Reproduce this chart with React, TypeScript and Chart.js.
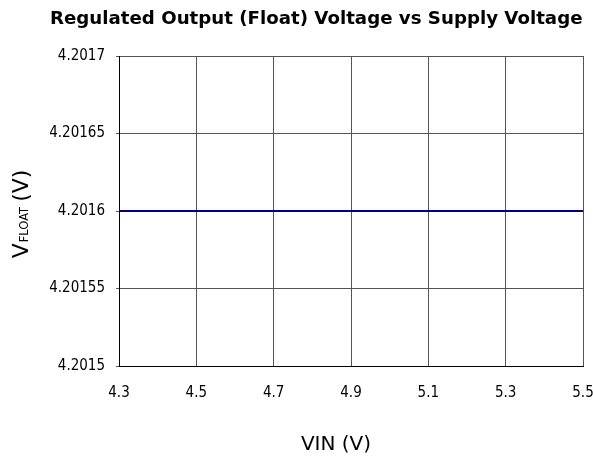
import React, { useEffect, useRef } from "react";
import { Chart, registerables } from "chart.js";

Chart.register(...registerables);

const vin = [4.3, 4.5, 4.7, 4.9, 5.1, 5.3, 5.5];
const vfloat = [4.2016, 4.2016, 4.2016, 4.2016, 4.2016, 4.2016, 4.2016];
const xTicks = [4.3, 4.5, 4.7, 4.9, 5.1, 5.3, 5.5];
const yTicks = [4.2015, 4.20155, 4.2016, 4.20165, 4.2017];
const titleText = "Regulated Output (Float) Voltage vs Supply Voltage";
const xTitle = "VIN (V)";

const textPlugin = {
  id: "customText",
  afterDraw(chart: any) {
    const ctx = chart.ctx;
    ctx.save();
    ctx.fillStyle = "#000";
    // title
    ctx.font = "bold 18.2px 'DejaVu Sans'";
    ctx.textAlign = "left";
    ctx.textBaseline = "middle";
    ctx.fillText(titleText, 50, 19);
    // x title
    ctx.font = "20px 'DejaVu Sans'";
    ctx.textAlign = "center";
    ctx.fillText(xTitle, 336, 445);
    // y title with subscript
    ctx.translate(21, 214);
    ctx.rotate(-Math.PI / 2);
    ctx.textAlign = "left";
    ctx.textBaseline = "alphabetic";
    const big = "22px 'DejaVu Sans'";
    const small = "11.5px 'DejaVu Sans'";
    ctx.font = big;
    const wV = ctx.measureText("V").width;
    const wRest = ctx.measureText("(V)").width;
    ctx.font = small;
    const wSub = ctx.measureText("FLOAT").width;
    const total = wV + 1 + wSub + 5 + wRest;
    let x = -total / 2;
    const base = 7;
    ctx.font = big;
    ctx.fillText("V", x, base);
    x += wV + 1;
    ctx.font = small;
    ctx.fillText("FLOAT", x, base);
    x += wSub + 5;
    ctx.font = big;
    ctx.fillText("(V)", x, base);
    ctx.restore();
  },
};

export default function App() {
  const ref = useRef<HTMLCanvasElement>(null);
  useEffect(() => {
    const chart = new Chart(ref.current!, {
      type: "line",
      data: {
        datasets: [
          {
            data: vin.map((x, i) => ({ x, y: vfloat[i] })),
            borderColor: "#000080",
            borderWidth: 2,
            pointRadius: 0,
            fill: false,
          },
        ],
      },
      options: {
        animation: false,
        responsive: false,
        layout: { padding: { top: 56, left: 0, right: 10, bottom: 0 } },
        plugins: { legend: { display: false }, tooltip: { enabled: false } },
        scales: {
          x: {
            type: "linear",
            min: 4.3,
            max: 5.5,
            afterBuildTicks: (s: any) => {
              s.ticks = xTicks.map((v) => ({ value: v }));
            },
            afterFit: (s: any) => {
              s.height = 94;
              s.paddingLeft = 0;
              s.paddingRight = 0;
            },
            ticks: {
              callback: (v: any) => Number(v).toFixed(1),
              font: { family: "'DejaVu Sans Condensed'", size: 15 },
              color: "#000",
              padding: 18,
              maxRotation: 0,
            },
            grid: { color: "#555", drawTicks: false, lineWidth: 1 },
            border: { color: "#000", width: 1 },
          },
          y: {
            type: "linear",
            min: 4.2015,
            max: 4.2017,
            afterBuildTicks: (s: any) => {
              s.ticks = yTicks.map((v) => ({ value: v }));
            },
            afterFit: (s: any) => {
              s.width = 119;
              s.paddingTop = 0;
              s.paddingBottom = 0;
            },
            ticks: {
              callback: (v: any) => String(parseFloat(Number(v).toFixed(5))),
              font: { family: "'DejaVu Sans Condensed'", size: 15 },
              color: "#000",
              padding: 11,
            },
            grid: { color: "#555", drawTicks: true, tickLength: 3, lineWidth: 1 },
            border: { color: "#000", width: 1 },
          },
        },
      },
      plugins: [textPlugin],
    });
    return () => chart.destroy();
  }, []);
  return (
    <div style={{ position: "absolute", left: 0, top: 0, width: 593, height: 460, background: "#fff" }}>
      <canvas ref={ref} width={593} height={460} />
    </div>
  );
}
